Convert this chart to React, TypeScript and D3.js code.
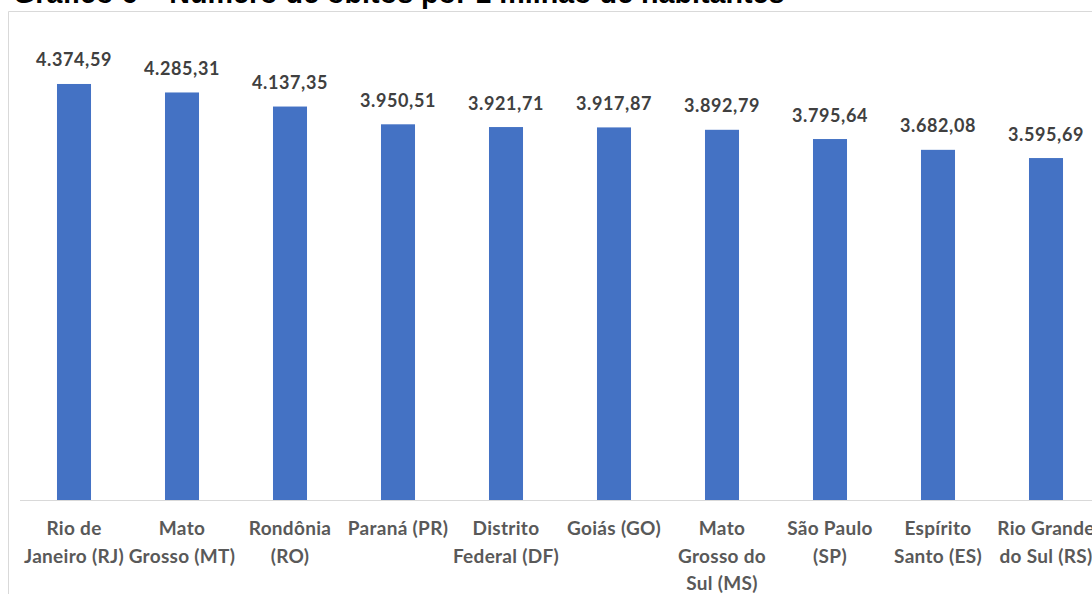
import React from "react";
import * as d3 from "d3";

const categories: string[][] = [
  ["Rio de", "Janeiro (RJ)"],
  ["Mato", "Grosso (MT)"],
  ["Rondônia", "(RO)"],
  ["Paraná (PR)"],
  ["Distrito", "Federal (DF)"],
  ["Goiás (GO)"],
  ["Mato", "Grosso do", "Sul (MS)"],
  ["São Paulo", "(SP)"],
  ["Espírito", "Santo (ES)"],
  ["Rio Grande", "do Sul (RS)"],
];
const values: number[] = [4374.59, 4285.31, 4137.35, 3950.51, 3921.71, 3917.87, 3892.79, 3795.64, 3682.08, 3595.69];
const valueLabels: string[] = ["4.374,59", "4.285,31", "4.137,35", "3.950,51", "3.921,71", "3.917,87", "3.892,79", "3.795,64", "3.682,08", "3.595,69"];
const title = "Gráfico 6 – Número de óbitos por 1 milhão de habitantes";

const W = 1092;
const H = 594;
const FONT = "Lato, 'Open Sans', sans-serif";

export default function App() {
  const idx = categories.map((_, i) => String(i));
  const x = d3.scaleBand<string>().domain(idx).range([20, 1100]).paddingInner(0.685).paddingOuter(0.3425);
  const y = d3.scaleLinear().domain([0, 5000]).range([500, 24.5]);

  return (
    <svg width={W} height={H} style={{ position: "absolute", left: 0, top: 0, background: "#fff" }}>
      <rect x={0} y={0} width={W} height={H} fill="#fff" />
      <text x={13} y={2.5} fontFamily="'Liberation Sans', Arial, sans-serif" fontWeight="bold" fontSize={28.7} fill="#000">
        {title}
      </text>
      <line x1={8.5} y1={11.5} x2={W} y2={11.5} stroke="#d9d9d9" strokeWidth={1} />
      <line x1={8.5} y1={11.5} x2={8.5} y2={H} stroke="#d9d9d9" strokeWidth={1} />
      {values.map((v, i) => (
        <rect key={i} x={x(String(i))!} y={y(v)} width={x.bandwidth()} height={y(0) - y(v)} fill="#4472C4" />
      ))}
      <line x1={20} y1={500.5} x2={W} y2={500.5} stroke="#d9d9d9" strokeWidth={1} />
      {values.map((v, i) => (
        <text
          key={i}
          x={x(String(i))! + x.bandwidth() / 2}
          y={y(v) - 17.5}
          textAnchor="middle"
          fontFamily={FONT}
          fontWeight="bold"
          fontSize={18}
          letterSpacing={0.6}
          fill="#404040"
        >
          {valueLabels[i]}
        </text>
      ))}
      {categories.map((lines, i) => (
        <text
          key={i}
          textAnchor="middle"
          fontFamily={FONT}
          fontWeight="bold"
          fontSize={19}
          letterSpacing={0.3}
          fill="#595959"
        >
          {lines.map((l, j) => (
            <tspan key={j} x={x(String(i))! + x.bandwidth() / 2} y={535 + j * 27.5}>
              {l}
            </tspan>
          ))}
        </text>
      ))}
    </svg>
  );
}
